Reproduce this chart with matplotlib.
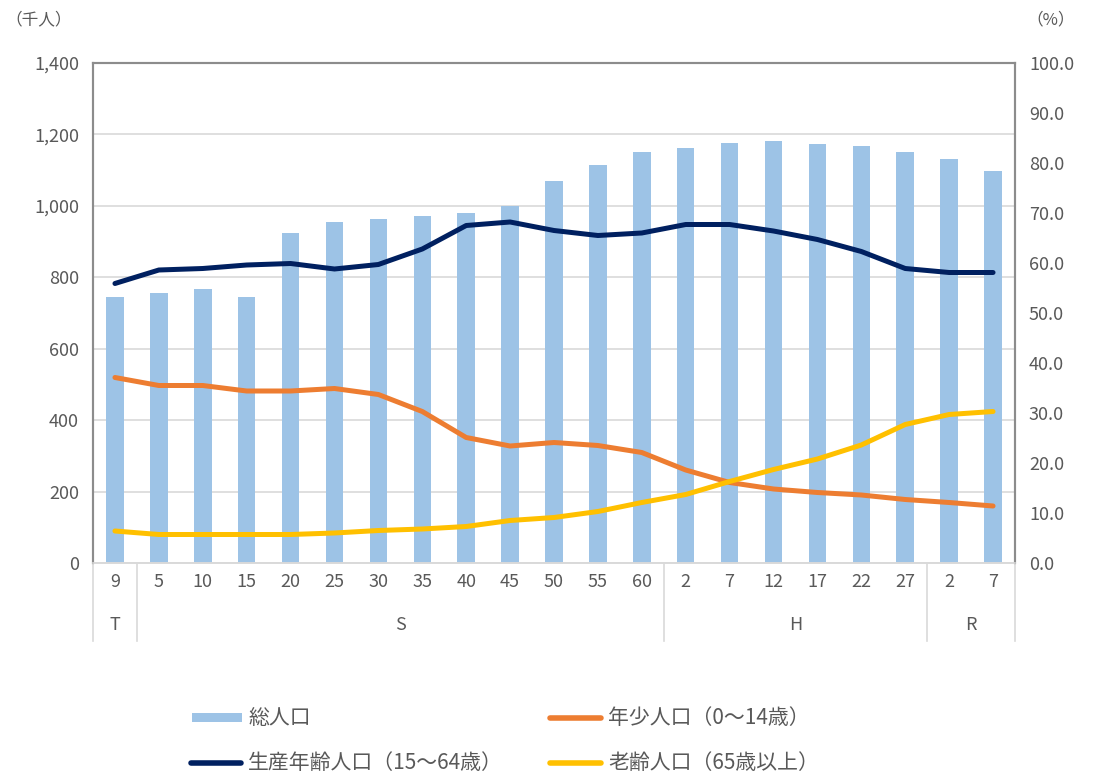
import matplotlib
matplotlib.use("Agg")
import matplotlib.pyplot as plt
from matplotlib.lines import Line2D
from matplotlib.patches import Rectangle
import matplotlib.transforms as mtransforms
from matplotlib.ticker import FuncFormatter, MultipleLocator
import numpy as np

plt.rcParams['font.family'] = ['Noto Sans CJK JP', 'DejaVu Sans']

years = ['9', '5', '10', '15', '20', '25', '30', '35', '40', '45', '50', '55', '60',
         '2', '7', '12', '17', '22', '27', '2', '7']
eras = ['T', 'S', 'H', 'R']
era_counts = [1, 12, 6, 2]

total_pop = [746, 756, 767, 746, 925, 954, 964, 972, 979, 1000, 1069, 1115, 1152,
             1162, 1176, 1181, 1172, 1169, 1152, 1131, 1097]
youth_pct = [37.1, 35.5, 35.5, 34.4, 34.4, 34.9, 33.7, 30.3, 25.1, 23.4, 24.1, 23.5, 22.1,
             18.6, 16.1, 14.8, 14.1, 13.6, 12.7, 12.1, 11.4]
working_pct = [55.9, 58.6, 58.9, 59.6, 59.9, 58.8, 59.7, 62.8, 67.5, 68.2, 66.5, 65.5, 66.0,
               67.7, 67.7, 66.4, 64.7, 62.3, 58.9, 58.1, 58.1]
elderly_pct = [6.4, 5.7, 5.7, 5.7, 5.7, 6.0, 6.5, 6.8, 7.3, 8.5, 9.1, 10.3, 12.1,
               13.7, 16.3, 18.7, 20.8, 23.6, 27.7, 29.7, 30.3]

legend_labels = ['総人口', '年少人口（0～14歳）', '生産年齢人口（15～64歳）', '老齢人口（65歳以上）']

BAR = '#9DC3E6'
NAVY = '#002060'
ORANGE = '#ED7D31'
YELLOW = '#FFC000'
TXT = '#595959'
GRID = '#D9D9D9'

W, H = 1100, 773
fig = plt.figure(figsize=(W / 100, H / 100), dpi=100)
ax = fig.add_axes([93/W, 1 - 563/H, (1015-93)/W, (563-63)/H])
ax2 = ax.twinx()

x = np.arange(len(years))
ax.bar(x, total_pop, width=0.4, color=BAR, zorder=2)
ax.set_xlim(-0.5, len(years) - 0.5)
ax.set_ylim(0, 1400)
ax.yaxis.set_major_locator(MultipleLocator(200))
ax.yaxis.set_major_formatter(FuncFormatter(lambda v, p: f'{int(v):,}'))
ax.grid(axis='y', color=GRID, lw=1.2, zorder=0)
ax.set_axisbelow(True)

kw = dict(lw=3.6, solid_capstyle='round', solid_joinstyle='round', zorder=3)
ax2.plot(x, working_pct, color=NAVY, **kw)
ax2.plot(x, youth_pct, color=ORANGE, **kw)
ax2.plot(x, elderly_pct, color=YELLOW, **kw)
ax2.set_ylim(0, 100)
ax2.yaxis.set_major_locator(MultipleLocator(10))
ax2.yaxis.set_major_formatter(FuncFormatter(lambda v, p: f'{v:.1f}'))

for a in (ax, ax2):
    a.tick_params(axis='y', length=0, labelsize=13, labelcolor=TXT, pad=10)
    for s in ('left', 'right', 'top'):
        a.spines[s].set_color('#8C8C8C')
        a.spines[s].set_linewidth(1.5)
    a.spines['bottom'].set_color(GRID)
    a.spines['bottom'].set_linewidth(1.2)

ax.set_xticks([])
ax2.set_xticks([])

# Two-level category labels
trans = mtransforms.blended_transform_factory(ax.transData, ax.transAxes)
for i, y in enumerate(years):
    ax.text(i, -0.038, y, transform=trans, ha='center', va='center', fontsize=13, color=TXT)

bounds = [-0.5]
for c in era_counts:
    bounds.append(bounds[-1] + c)
for i, e in enumerate(eras):
    mid = (bounds[i] + bounds[i + 1]) / 2
    ax.text(mid, -0.124, e, transform=trans, ha='center', va='center', fontsize=13, color=TXT)
for b in bounds:
    ax.add_line(Line2D([b, b], [0, -0.155], transform=trans, color=GRID, lw=1.2, clip_on=False))

fig.text(5/W, 1 - 20/H, '（千人）', ha='left', va='center', fontsize=12, color=TXT)
fig.text(1075/W, 1 - 20/H, '（%）', ha='right', va='center', fontsize=12, color=TXT)

# Manual legend (positions in figure pixels)
def fy(py):
    return 1 - py / H

fig.patches.append(Rectangle((192/W, fy(722)), 50/W, 9/H, transform=fig.transFigure,
                             facecolor=BAR, edgecolor='none'))
fig.text(248/W, fy(718), legend_labels[0], ha='left', va='center', fontsize=15, color=TXT)

fig.add_artist(Line2D([550/W, 601/W], [fy(718), fy(718)], transform=fig.transFigure,
                      color=ORANGE, lw=4, solid_capstyle='round'))
fig.text(608/W, fy(718), legend_labels[1], ha='left', va='center', fontsize=15, color=TXT)

fig.add_artist(Line2D([191/W, 241/W], [fy(763), fy(763)], transform=fig.transFigure,
                      color=NAVY, lw=4, solid_capstyle='round'))
fig.text(248/W, fy(763), legend_labels[2], ha='left', va='center', fontsize=15, color=TXT)

fig.add_artist(Line2D([550/W, 601/W], [fy(763), fy(763)], transform=fig.transFigure,
                      color=YELLOW, lw=4, solid_capstyle='round'))
fig.text(608/W, fy(763), legend_labels[3], ha='left', va='center', fontsize=15, color=TXT)

fig.savefig('out.png', dpi=100)
